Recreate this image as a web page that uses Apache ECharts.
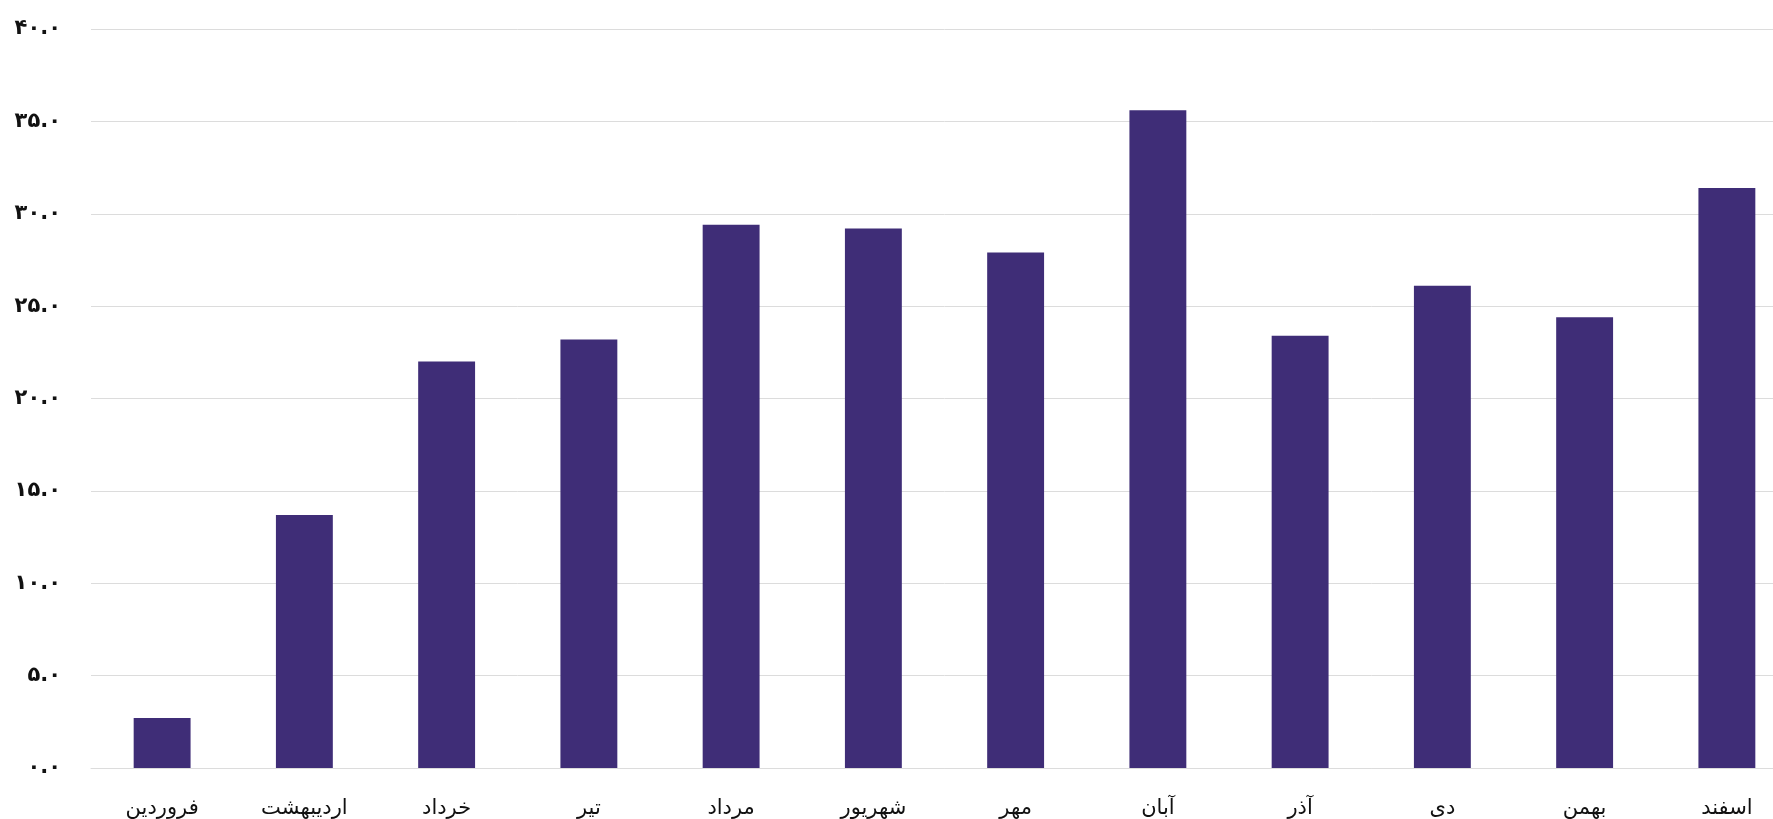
<!DOCTYPE html>
<html>
<head>
<meta charset="utf-8">
<script src="https://cdn.jsdelivr.net/npm/echarts@6/dist/echarts.min.js"></script>
<style>
  html, body { margin: 0; padding: 0; background: #ffffff; overflow: hidden; }
  /* the plot area continues a little past the visible right edge */
  #chart { width: 1798px; height: 819px; }
</style>
</head>
<body>
<div id="chart"></div>
<script>
// Persian months
const months = ['فروردین', 'اردیبهشت', 'خرداد', 'تیر', 'مرداد', 'شهریور', 'مهر', 'آبان', 'آذر', 'دی', 'بهمن', 'اسفند'];
// Monthly values
const values = [2.7, 13.7, 22.0, 23.2, 29.4, 29.2, 27.9, 35.6, 23.4, 26.1, 24.4, 31.4];
// Value axis range
const yMin = 0;
const yMax = 40;
const yStep = 5;

const faDigits = '۰۱۲۳۴۵۶۷۸۹';
function toFa(str) {
  return String(str).replace(/[0-9]/g, d => faDigits[+d]);
}

const chart = echarts.init(document.getElementById('chart'), null, { renderer: 'canvas' });
const fontFamily = '"DejaVu Sans", "Noto Sans", sans-serif';

chart.setOption({
  animation: false,
  backgroundColor: '#ffffff',
  grid: { left: 91, right: 0, top: 29, bottom: 51, containLabel: false },
  xAxis: {
    type: 'category',
    data: months,
    axisLine: { show: true, lineStyle: { color: '#dcdcdc', width: 1 } },
    axisTick: { show: false },
    axisLabel: { color: '#111111', fontSize: 21, fontFamily: fontFamily, margin: 30 }
  },
  yAxis: {
    type: 'value',
    min: yMin,
    max: yMax,
    interval: yStep,
    axisLine: { show: false },
    axisTick: { show: false },
    splitLine: { lineStyle: { color: '#dcdcdc', width: 1 } },
    axisLabel: {
      color: '#111111',
      fontSize: 21,
      fontWeight: 'bold',
      fontFamily: fontFamily,
      margin: 30,
      formatter: v => toFa(v.toFixed(1))
    }
  },
  series: [{
    type: 'bar',
    data: values,
    barWidth: '40%',
    itemStyle: { color: '#3f2d77' }
  }]
});
</script>
</body>
</html>
